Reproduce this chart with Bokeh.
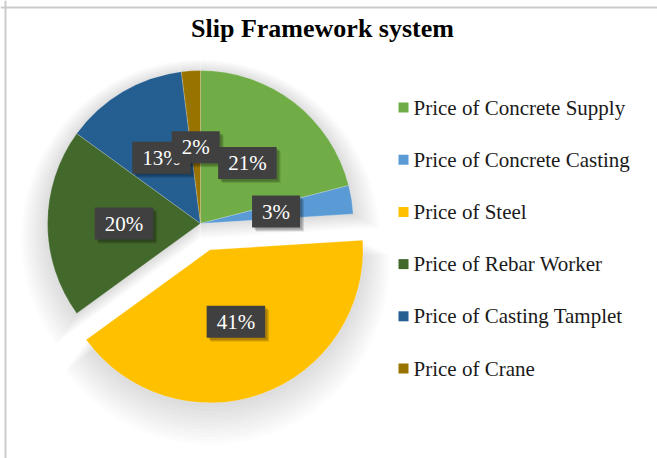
import numpy as np
from bokeh.plotting import figure
from bokeh.models import ColumnDataSource, Range1d, Label, Span
from bokeh.core.properties import value
from bokeh.embed import file_html
from bokeh.resources import INLINE

# ---- data ----
chart_title = "Slip Framework system"
categories = ["Price of Concrete Supply", "Price of Concrete Casting", "Price of Steel",
              "Price of Rebar Worker", "Price of Casting Tamplet", "Price of Crane"]
shares = [21, 3, 41, 20, 13, 2]
colors = ["#70AD47", "#5B9BD5", "#FFC000", "#43682B", "#255E91", "#997300"]
exploded = [0, 0, 1, 0, 0, 0]

# ---- layout ----
W, H = 657, 458
CX, CY, R = 200, 235, 153
EXPLODE_DIST = 28
FONT = "Liberation Serif"

frac = np.array(shares, dtype=float) / sum(shares)
cum = np.concatenate([[0.0], np.cumsum(frac)])
start = np.pi / 2 - 2 * np.pi * cum[:-1]
end = np.pi / 2 - 2 * np.pi * cum[1:]
mid = (start + end) / 2
ex = np.array(exploded) * EXPLODE_DIST
cx = CX + ex * np.cos(mid)
cy = CY + ex * np.sin(mid)
lx = cx + 0.5 * R * np.cos(mid)
ly = cy + 0.5 * R * np.sin(mid)
labels = [f"{v}%" for v in shares]

src = ColumnDataSource(dict(x=cx, y=cy, start=start, end=end, color=colors,
                            lx=lx, ly=ly, label=labels, cat=categories))

p = figure(width=W, height=H, x_range=Range1d(0, W), y_range=Range1d(0, H),
           output_backend="svg", toolbar_location=None, min_border=0,
           outline_line_color=None, background_fill_color="white")
p.axis.visible = False
p.grid.visible = False

# soft shadow
for k in range(12):
    p.wedge(x=cx, y=cy - (1 + 1.3 * k), radius=R + 2.4 * k,
            start_angle=start, end_angle=end, direction="clock",
            fill_color="#000000", fill_alpha=0.013, line_color=None)

p.wedge(x="x", y="y", radius=R, start_angle="start", end_angle="end",
        direction="clock", fill_color="color", line_color="white",
        line_width=0.3, line_alpha=0.7, source=src)

# label box shadows
for k in range(3):
    p.text(x="lx", y="ly", text="label", source=src, x_offset=2 + k, y_offset=2 + k,
           text_align="center", text_baseline="middle", text_font=value(FONT),
           text_font_size="21px", text_alpha=0,
           background_fill_color="#000000", background_fill_alpha=0.12,
           padding=(10, 4))
# labels
p.text(x="lx", y="ly", text="label", source=src,
       text_align="center", text_baseline="middle", text_font=value(FONT),
       text_font_size="21px", text_color="white",
       background_fill_color="#404040", background_fill_alpha=1.0,
       padding=(10, 4))

# legend
LEG_X, LEG_TOP, LEG_STEP = 403, 351, 52.2
leg_y = [LEG_TOP - i * LEG_STEP for i in range(len(categories))]
leg_src = ColumnDataSource(dict(x=[LEG_X] * len(categories), tx=[LEG_X + 10] * len(categories),
                                y=leg_y, color=colors, cat=categories))
p.scatter(x="x", y="y", marker="square", size=10, fill_color="color",
          line_color=None, source=leg_src)
p.text(x="tx", y="y", text="cat", source=leg_src, text_align="left",
       text_baseline="middle", text_font=value(FONT), text_font_size="21px",
       text_color="#1a1a1a")

# title
p.add_layout(Label(x=322, y=430, text=chart_title, text_align="center",
                   text_baseline="middle", text_font=FONT, text_font_size="26px",
                   text_font_style="bold", text_color="#000000"))

# chart frame (left & top visible)
p.add_layout(Span(location=5, dimension="height", line_color="#cccccc", line_width=2))
p.add_layout(Span(location=H - 7, dimension="width", line_color="#cccccc", line_width=2))

open("out.html", "w").write(file_html(p, INLINE))
